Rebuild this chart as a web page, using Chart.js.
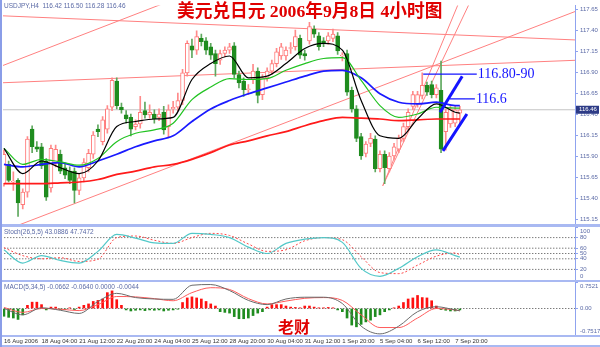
<!DOCTYPE html>
<html>
<head>
<meta charset="utf-8">
<script src="https://cdn.jsdelivr.net/npm/chart.js@4.4.1/dist/chart.umd.min.js"></script>
<style>
  html, body { margin: 0; padding: 0; background: #fff; }
  #wrap { position: relative; width: 600px; height: 347px; overflow: hidden; background: #fff; }
  #wrap canvas { position: absolute; left: 0; top: 0; }
  .sep { position: absolute; left: 0; width: 600px; background: #a9b9f2; }
</style>
</head>
<body>
<div id="wrap">
  <canvas id="mainChart" width="600" height="347"></canvas>
  <canvas id="stochChart" width="600" height="347"></canvas>
  <canvas id="macdChart" width="600" height="347"></canvas>
  <div class="sep" style="top:224px;height:3px"></div>
  <div class="sep" style="top:280px;height:2px"></div>
  <div class="sep" style="top:335px;height:2px"></div>
  <div class="sep" style="top:345px;height:2px"></div>
  <div class="sep" style="top:0;left:0;width:2px;height:347px;background:#8a9de8"></div>
</div>
<script>
// H4 candles, bar index 0..97
const openP = [
  115.58,115.81,115.60,115.62,115.33,115.48,116.23,116.02,116.02,115.85,
  115.53,115.82,115.93,115.77,115.73,115.73,115.50,115.65,115.77,115.93,
  116.23,116.08,116.23,116.49,116.80,116.49,116.40,116.37,116.26,116.29,
  116.45,116.40,116.41,116.37,116.43,116.26,116.47,116.49,116.57,116.90,
  117.22,117.17,117.31,117.28,117.21,117.13,117.05,117.13,117.17,117.22,
  116.88,116.80,116.70,116.82,116.92,116.64,116.84,116.92,117.01,117.10,
  117.10,117.19,117.21,117.31,117.13,117.28,117.42,117.34,117.28,117.28,
  117.31,117.34,117.10,117.13,116.69,116.47,116.14,115.94,116.06,116.11,
  115.76,115.93,115.76,115.91,115.99,116.12,116.26,116.50,116.53,116.63,
  116.75,116.76,116.64,116.69,116.20,116.29,116.30,116.42];
const highP = [
  115.98,115.85,115.72,115.64,115.52,116.14,116.27,116.08,116.06,115.88,
  116.04,116.04,115.98,115.82,115.78,115.77,115.69,115.88,115.99,116.20,
  116.28,116.38,116.51,116.84,116.84,116.54,116.45,116.41,116.34,116.62,
  116.55,116.52,116.46,116.47,116.50,116.52,116.56,116.66,116.94,117.28,
  117.30,117.40,117.36,117.32,117.25,117.17,117.17,117.21,117.25,117.26,
  116.92,116.84,116.76,117.00,116.96,116.88,116.96,117.05,117.19,117.25,
  117.21,117.26,117.41,117.35,117.17,117.50,117.46,117.38,117.32,117.38,
  117.42,117.38,117.14,117.17,116.73,116.51,116.18,116.08,116.18,116.15,
  115.97,115.97,115.95,116.06,116.16,116.30,116.47,116.68,116.68,116.90,
  116.79,116.80,116.76,117.04,116.47,116.51,116.50,116.50];
const lowP = [
  115.55,115.60,115.50,115.19,115.28,115.42,115.95,115.96,115.76,115.38,
  115.48,115.78,115.70,115.64,115.58,115.35,115.45,115.60,115.72,115.88,
  116.14,116.04,116.18,116.45,116.47,116.42,116.30,116.15,116.22,116.24,
  116.36,116.36,116.30,116.33,116.17,116.13,116.42,116.45,116.52,116.86,
  117.08,117.12,117.22,117.12,117.06,116.86,117.00,117.09,117.13,116.84,
  116.72,116.62,116.64,116.77,116.54,116.58,116.80,116.88,116.97,117.06,
  117.05,117.13,117.17,117.07,117.05,117.24,117.32,117.17,117.21,117.24,
  117.27,117.12,117.04,116.63,116.43,116.08,115.87,115.90,116.02,115.72,
  115.72,115.58,115.72,115.87,115.95,116.08,116.22,116.46,116.49,116.59,
  116.63,116.60,116.60,115.95,115.98,116.25,116.26,116.28];
const closeP = [
  115.93,115.62,115.61,115.35,115.48,116.11,116.02,115.99,115.79,115.42,
  116.00,115.99,115.73,115.68,115.62,115.50,115.65,115.83,115.94,116.16,
  116.20,116.34,116.47,116.81,116.51,116.46,116.35,116.23,116.29,116.43,
  116.40,116.43,116.35,116.41,116.22,116.46,116.49,116.57,116.90,117.25,
  117.17,117.33,117.27,117.17,117.11,117.01,117.13,117.17,117.21,116.88,
  116.78,116.70,116.71,116.92,116.63,116.84,116.92,117.01,117.15,117.21,
  117.17,117.20,117.33,117.11,117.10,117.45,117.36,117.21,117.25,117.34,
  117.36,117.16,117.11,116.67,116.47,116.12,115.91,116.05,116.12,115.76,
  115.93,115.77,115.91,116.02,116.12,116.26,116.43,116.64,116.64,116.75,
  116.67,116.64,116.72,115.99,116.43,116.47,116.46,116.46];

// indicator lines, read every 4 bars
const sampleIdx = [0,4,8,12,16,20,24,28,32,36,40,44,48,52,56,60,64,68,72,76,80,84,88,92,96,97];
const blackMa = [116.00,115.70,115.85,115.77,115.70,115.85,116.26,116.32,116.35,116.37,116.82,117.01,117.10,116.84,116.86,117.01,117.19,117.25,117.17,116.57,116.15,116.12,116.35,116.53,116.43,116.42];
const greenMa = [116.00,115.81,115.87,115.84,115.80,115.88,116.08,116.18,116.22,116.30,116.58,116.73,116.83,116.82,116.83,116.93,117.01,117.07,117.08,116.81,116.51,116.37,116.41,116.49,116.48,116.48];
const blueMa = [115.81,115.78,115.81,115.83,115.78,115.85,115.93,116.02,116.09,116.15,116.32,116.47,116.57,116.65,116.72,116.79,116.86,116.92,116.93,116.84,116.65,116.55,116.53,116.55,116.51,116.51];
const redMa = [115.58,115.58,115.58,115.59,115.60,115.63,115.69,115.73,115.78,115.81,115.87,115.95,116.04,116.09,116.15,116.20,116.27,116.33,116.37,116.36,116.35,116.33,116.34,116.35,116.35,116.35];
const stochMain = [57,32,46,37,32,54,86,79,70,69,88,86,80,62,50,69,77,80,71,22,7,22,44,57,46,43.09];
const stochSignal = [61,46,40,42,35,39,80,83,75,69,80,88,84,68,54,57,74,80,76,44,14,12,28,45,51,47.75];
const macdMain = [0,-0.18,0.02,-0.05,-0.14,0.2,0.43,0.31,0.27,0.26,0.66,0.68,0.51,0.23,0.11,0.27,0.32,0.32,0.14,-0.5,-0.72,-0.5,-0.09,0.05,-0.04,-0.0662];
const macdSignal = [0.03,-0.11,0,-0.02,-0.06,0.11,0.34,0.33,0.28,0.22,0.45,0.59,0.54,0.28,0.13,0.21,0.29,0.31,0.23,-0.18,-0.54,-0.54,-0.27,0,-0.04,-0.064];
const macdHist = [
  -0.22,-0.25,-0.27,-0.31,-0.18, 0.09,0.18,0.18,0.11,
  -0.04,0.04,0.04,-0.03,-0.03,0.02,-0.03,
  0.04,0.09,0.13,0.20,0.23,0.27,0.45,0.50,0.25,0.09,
  -0.04,-0.07,-0.05,-0.04,-0.06,-0.04,-0.05,-0.04,-0.07,-0.05,-0.04,-0.02,
  0.17,0.30,0.33,0.30,0.27,0.20,0.13,0.07,
  -0.09,-0.11,-0.13,-0.23,-0.29,-0.29,-0.27,-0.20,-0.13,-0.09,
  0.04,0.11,0.11,0.11,0.07,0.04,0.03,0.02,0.07,0.07,0.04,0.02,0.02,0.03,0.02,
  -0.04,-0.09,-0.27,-0.47,-0.52,-0.45,-0.38,-0.33,-0.23,-0.18,-0.09,-0.04,0.02,
  0.07,0.17,0.27,0.30,0.37,0.31,0.30,0.22,0.07,
  -0.03,-0.05,-0.07,-0.07,-0.04];

// trendlines drawn on the chart: [bar1, price1, bar2, price2]
const trendLines = [
  [-1, 116.97, 36, 117.77],
  [-1, 117.58, 122, 117.29],
  [0, 115.02, 122, 117.64],
  [-1, 116.78, 122, 117.05],
  [80.6, 115.555, 98, 117.90],
  [80.6, 115.555, 100, 117.84]
];
const noteLines = [[89.2, 116.884, 100.6, 116.884], [94.9, 116.59, 100.2, 116.59]];
const noteDiags = [[92.8, 116.43, 97.5, 116.86], [93.4, 115.97, 98.5, 116.41]];
const noteLabels = ['116.80-90', '116.6'];

// axes
const priceTicks = [115.15,115.40,115.65,115.90,116.15,116.40,116.65,116.90,117.15,117.40,117.65];
const stochTicks = [0,20,40,50,60,80,100];
const stochTickLabels = ['0','20','40','50','60','80','100'];
const stochLevels = [20,40,50,60,80];
const macdTicks = [-0.7517, 0, 0.7521];
const macdTickLabels = ['-0.7517', '0.00', '0.7521'];
const dateIdx = [0,8,16,24,32,40,48,56,64,72,80,88,96];
const dateLabels = ['16 Aug 2006','18 Aug 04:00','21 Aug 12:00','22 Aug 20:00','24 Aug 04:00','25 Aug 12:00',
  '28 Aug 20:00','30 Aug 04:00','31 Aug 12:00','1 Sep 20:00','5 Sep 04:00','6 Sep 12:00','7 Sep 20:00'];

const headerText = 'USDJPY,H4  116.42 116.50 116.28 116.46';
const titleText = '美元兑日元 2006年9月8日 4小时图';
const stochText = 'Stoch(26,5,5) 43.0886 47.7472';
const macdText = 'MACD(5,34,5) -0.0662 -0.0640 0.0000 -0.0044';

const xMin = -0.2, xMax = 121.5;
const axisBlue = '#8fa3ef';
const labelColor = '#5b6aa6';
const smallFont = { family: 'Liberation Sans', size: 6 };

const bull = closeP.map((c, i) => c >= openP[i]);
const seg = (a) => [{ x: a[0], y: a[1] }, { x: a[2], y: a[3] }];
const sampled = (vals) => sampleIdx.map((x, k) => ({ x, y: vals[k] }));
const flat = (v) => [{ x: xMin - 1, y: v }, { x: xMax + 1, y: v }];

function lineSet(data, color, width, extra) {
  return Object.assign({ type: 'line', data, borderColor: color, borderWidth: width,
    pointRadius: 0, fill: false, cubicInterpolationMode: 'monotone' }, extra || {});
}

// labels at the top and bottom edge of a sub-window are drawn inside it, like MT4 does
function edgeAware(labels) {
  return (v, i) => (i === 0 || i === labels.length - 1) ? '' : labels[i];
}

function panelOptions(padding, yMin, yMax, ticks, labelFn, showX) {
  const x = { type: 'linear', min: xMin, max: xMax, offset: false, display: showX };
  if (showX) {
    Object.assign(x, {
      afterBuildTicks: ax => { ax.ticks = dateIdx.map(v => ({ value: v })); },
      afterFit: ax => { ax.height = 12; },
      ticks: { autoSkip: false, maxRotation: 0, align: 'start', padding: 1,
        font: smallFont, color: '#333', callback: (v, i) => dateLabels[i] },
      grid: { drawOnChartArea: false, tickLength: 2, color: '#777' },
      border: { display: false }
    });
  }
  return {
    responsive: false, animation: false, events: [],
    layout: { padding },
    plugins: { legend: { display: false }, tooltip: { enabled: false } },
    scales: {
      x,
      y: {
        position: 'right', min: yMin, max: yMax,
        afterBuildTicks: ax => { ax.ticks = ticks.map(v => ({ value: v })); },
        afterFit: ax => { ax.width = 25; },
        ticks: { autoSkip: false, padding: 2, font: smallFont, color: labelColor, callback: labelFn },
        grid: { drawOnChartArea: false, tickLength: 3, color: axisBlue },
        border: { color: axisBlue }
      }
    }
  };
}

function panelLabel(id, text, labels) {
  return {
    id,
    afterDraw(chart) {
      const { ctx, chartArea } = chart;
      ctx.save();
      ctx.font = '6.5px "Liberation Sans"';
      ctx.fillStyle = labelColor;
      ctx.textBaseline = 'middle';
      ctx.fillText(text, 4, chartArea.top + 5);
      ctx.font = '6px "Liberation Sans"';
      ctx.fillText(labels[labels.length - 1], chartArea.right + 5, chartArea.top + 4);
      ctx.fillText(labels[0], chartArea.right + 5, chartArea.bottom - 4);
      ctx.restore();
    }
  };
}

const mainOverlay = {
  id: 'mainOverlay',
  afterDraw(chart) {
    const { ctx, chartArea, scales } = chart;
    ctx.save();
    ctx.font = '6.5px "Liberation Sans"';
    ctx.fillStyle = labelColor;
    ctx.textBaseline = 'middle';
    ctx.fillText(headerText, 4, 6);

    // red title, fitted to its width in the picture
    let size = 18;
    ctx.font = 'bold ' + size + 'px "Liberation Serif", "Noto Sans CJK SC"';
    size = size * 266 / ctx.measureText(titleText).width;
    ctx.font = 'bold ' + size.toFixed(1) + 'px "Liberation Serif", "Noto Sans CJK SC"';
    ctx.fillStyle = '#e00000';
    ctx.fillText(titleText, 177, 12);

    ctx.font = '14px "Liberation Serif"';
    ctx.fillStyle = '#1414ff';
    noteLines.forEach((l, k) => {
      ctx.fillText(noteLabels[k], scales.x.getPixelForValue(l[2]) + 1, scales.y.getPixelForValue(l[3]));
    });

    const last = closeP[closeP.length - 1];
    const y = scales.y.getPixelForValue(last);
    ctx.fillStyle = '#2d3b86';
    ctx.fillRect(chartArea.right + 1, y - 4, 23, 8);
    ctx.fillStyle = '#ffffff';
    ctx.font = '6px "Liberation Sans"';
    ctx.fillText(last.toFixed(2), chartArea.right + 4, y);
    ctx.restore();
  }
};

const signOverlay = {
  id: 'signOverlay',
  afterDraw(chart) {
    const ctx = chart.ctx;
    ctx.save();
    ctx.font = 'bold 16px "Noto Sans CJK SC"';
    ctx.fillStyle = '#e00000';
    ctx.textBaseline = 'middle';
    ctx.fillText('老财', 278, 327);
    ctx.restore();
  }
};

// main price panel
new Chart(document.getElementById('mainChart'), {
  type: 'bar',
  data: {
    datasets: [
      lineSet(flat(closeP[closeP.length - 1]), '#c4c4c4', 1, { order: 20 }),
      ...trendLines.map(t => lineSet(seg(t), '#ff8080', 1, { order: 15 })),
      {
        data: highP.map((h, i) => ({ x: i, y: [lowP[i], h] })),
        backgroundColor: bull.map(b => b ? '#ff8a8a' : '#5ea85e'),
        barThickness: 1, grouped: false, order: 12
      },
      {
        data: openP.map((o, i) => ({ x: i, y: [o, closeP[i]] })),
        backgroundColor: bull.map(b => b ? '#ffffff' : '#1f8c1f'),
        borderColor: bull.map(b => b ? '#ff7b7b' : '#1f8c1f'),
        borderWidth: 1, borderSkipped: false, barThickness: 4, grouped: false, order: 11
      },
      lineSet(sampled(redMa), '#ff1a1a', 1.7, { order: 8 }),
      lineSet(sampled(blueMa), '#1a1aff', 1.7, { order: 7 }),
      lineSet(sampled(greenMa), '#22c322', 1.2, { order: 6 }),
      lineSet(sampled(blackMa), '#000000', 1.2, { order: 5 }),
      ...noteLines.map(l => lineSet(seg(l), '#1414ff', 1.3, { order: 2 })),
      ...noteDiags.map(l => lineSet(seg(l), '#1414ff', 3, { order: 1 }))
    ]
  },
  options: panelOptions({ left: 3, top: 1, right: 0, bottom: 123 }, 115.10, 117.70,
    priceTicks, v => v.toFixed(2), false),
  plugins: [mainOverlay]
});

// stochastic panel
new Chart(document.getElementById('stochChart'), {
  type: 'line',
  data: {
    datasets: [
      ...stochLevels.map(v => lineSet(flat(v), '#444444', 1, { borderDash: [1, 2], order: 10 })),
      lineSet(sampled(stochSignal), '#ff4a4a', 1, { borderDash: [2, 2], order: 3 }),
      lineSet(sampled(stochMain), '#52c8c8', 1.2, { order: 2 })
    ]
  },
  options: panelOptions({ left: 3, top: 227, right: 0, bottom: 67 }, 0, 100,
    stochTicks, edgeAware(stochTickLabels), false),
  plugins: [panelLabel('stochLabel', stochText, stochTickLabels)]
});

// MACD panel
new Chart(document.getElementById('macdChart'), {
  type: 'bar',
  data: {
    datasets: [
      lineSet(flat(0), '#444444', 1, { borderDash: [1, 2], order: 10 }),
      {
        data: macdHist.map((v, i) => ({ x: i, y: v })),
        backgroundColor: macdHist.map(v => v >= 0 ? '#ff1010' : '#1f8c1f'),
        barThickness: 2, grouped: false, order: 8
      },
      lineSet(sampled(macdSignal), '#ff5a5a', 1, { order: 3 }),
      lineSet(sampled(macdMain), '#6a6a6a', 1, { order: 2 })
    ]
  },
  options: panelOptions({ left: 3, top: 282, right: 0, bottom: 0 }, -0.7517, 0.7521,
    macdTicks, edgeAware(macdTickLabels), true),
  plugins: [panelLabel('macdLabel', macdText, macdTickLabels), signOverlay]
});
</script>
</body>
</html>
